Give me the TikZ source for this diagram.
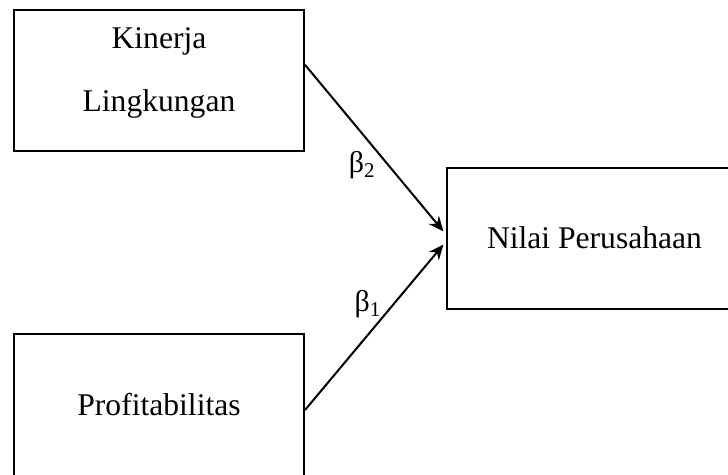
\documentclass[tikz,border=0pt]{standalone}
\usepackage{fontspec}
\setmainfont{Liberation Serif}
\usetikzlibrary{arrows.meta,calc}
\begin{document}
\begin{tikzpicture}[x=1pt, y=-1pt,
        varbox/.style={draw, line width=2pt, minimum width=290pt, minimum height=141pt,
            align=center, font=\fontsize{31.6}{63}\selectfont},
        effect/.style={-{Stealth[length=15pt,width=13pt]}, line width=2pt, shorten >=4pt},
        coef/.style={inner sep=0pt, font=\fontsize{30}{34}\selectfont}]
        \useasboundingbox (0,0) rectangle (728,474);
        \node[varbox, text depth=22pt] (kinerja) at (159,80.5) {Kinerja\\Lingkungan};
        \node[varbox, minimum height=142pt] (profit) at (159,405) {Profitabilitas};
        \node[varbox, minimum width=295pt] (nilai) at (594.5,238) {Nilai Perusahaan};
        \draw[effect] ($(kinerja.north east)!0.39!(kinerja.south east)$) -- ([yshift=3.5pt]nilai.west)
            node[coef, pos=0.59, left=12pt] {β\textsubscript{2}};
        \draw[effect] ($(profit.north east)!0.535!(profit.south east)$) -- ([yshift=-3.5pt]nilai.west)
            node[coef, pos=0.63, left=12pt] {β\textsubscript{1}};
    \end{tikzpicture}
\end{document}
